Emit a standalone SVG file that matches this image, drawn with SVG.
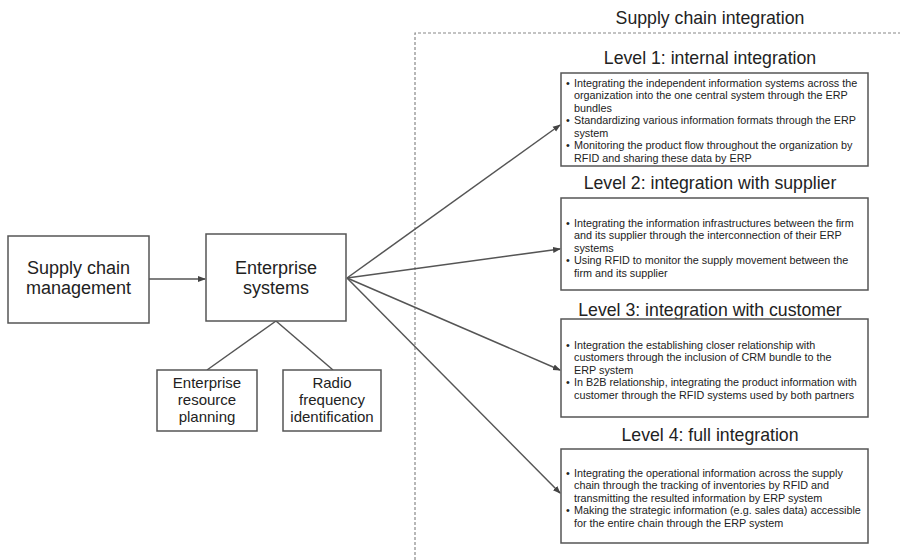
<svg xmlns="http://www.w3.org/2000/svg" width="900" height="560" viewBox="0 0 900 560">
<defs>
<style>
text{font-family:"Liberation Sans",Arial,sans-serif;fill:#222}
.box{fill:#fff;stroke:#555;stroke-width:1.5}
.main{font-size:18px;text-anchor:middle}
.small{font-size:15px;text-anchor:middle}
.head{font-size:17.7px;text-anchor:middle}
.bul{font-size:10.8px}
.conn{stroke:#555;stroke-width:1.5;fill:none}
</style>
<marker id="arr" markerWidth="8" markerHeight="8" refX="7" refY="4" orient="auto" markerUnits="userSpaceOnUse">
<path d="M0,1 L8,4 L0,7 Z" fill="#444"/>
</marker>
</defs>
<rect width="900" height="560" fill="#fff"/>
<g id="frame">
<path d="M415,560 V33 H900" fill="none" stroke="#888" stroke-width="1.2" stroke-dasharray="3,2"/>
<text class="head" x="710" y="24">Supply chain integration</text>
</g>
<g id="connectors">
<line class="conn" x1="149" y1="279" x2="205" y2="279" marker-end="url(#arr)"/>
<line class="conn" x1="276" y1="321" x2="207" y2="370"/>
<line class="conn" x1="276" y1="321" x2="333" y2="370"/>
<line class="conn" x1="347" y1="278" x2="560" y2="125" marker-end="url(#arr)"/>
<line class="conn" x1="347" y1="278" x2="560" y2="249" marker-end="url(#arr)"/>
<line class="conn" x1="347" y1="278" x2="560" y2="370" marker-end="url(#arr)"/>
<line class="conn" x1="347" y1="278" x2="560" y2="493" marker-end="url(#arr)"/>
</g>
<g id="scm">
<rect class="box" x="8" y="236" width="141" height="87"/>
<text class="main" x="78.5" y="274">Supply chain</text>
<text class="main" x="78.5" y="294">management</text>
</g>
<g id="es">
<rect class="box" x="206" y="234" width="140" height="87"/>
<text class="main" x="276" y="274">Enterprise</text>
<text class="main" x="276" y="294">systems</text>
</g>
<g id="erp">
<rect class="box" x="157" y="370" width="100" height="61"/>
<text class="small" x="207" y="388">Enterprise</text>
<text class="small" x="207" y="405">resource</text>
<text class="small" x="207" y="422">planning</text>
</g>
<g id="rfid">
<rect class="box" x="283" y="370" width="98" height="61"/>
<text class="small" x="332" y="388">Radio</text>
<text class="small" x="332" y="405">frequency</text>
<text class="small" x="332" y="422">identification</text>
</g>
<g id="level1">
<text class="head" x="710" y="64">Level 1: internal integration</text>
<rect class="box" x="561" y="73" width="307" height="93"/>
<text class="bul" x="566" y="86.5">•</text>
<text class="bul" x="574" y="86.5">Integrating the independent information systems across the</text>
<text class="bul" x="574" y="99">organization into the one central system through the ERP</text>
<text class="bul" x="574" y="111.5">bundles</text>
<text class="bul" x="566" y="124">•</text>
<text class="bul" x="574" y="124">Standardizing various information formats through the ERP</text>
<text class="bul" x="574" y="136.5">system</text>
<text class="bul" x="566" y="149">•</text>
<text class="bul" x="574" y="149">Monitoring the product flow throughout the organization by</text>
<text class="bul" x="574" y="161.5">RFID and sharing these data by ERP</text>
</g>
<g id="level2">
<text class="head" x="710" y="189">Level 2: integration with supplier</text>
<rect class="box" x="561" y="198" width="307" height="92"/>
<text class="bul" x="566" y="226.5">•</text>
<text class="bul" x="574" y="226.5">Integrating the information infrastructures between the firm</text>
<text class="bul" x="574" y="239">and its supplier through the interconnection of their ERP</text>
<text class="bul" x="574" y="251.5">systems</text>
<text class="bul" x="566" y="264">•</text>
<text class="bul" x="574" y="264">Using RFID to monitor the supply movement between the</text>
<text class="bul" x="574" y="276.5">firm and its supplier</text>
</g>
<g id="level3">
<text class="head" x="710" y="316">Level 3: integration with customer</text>
<rect class="box" x="561" y="319" width="307" height="98"/>
<text class="bul" x="566" y="348.5">•</text>
<text class="bul" x="574" y="348.5">Integration the establishing closer relationship with</text>
<text class="bul" x="574" y="361">customers through the inclusion of CRM bundle to the</text>
<text class="bul" x="574" y="373.5">ERP system</text>
<text class="bul" x="566" y="386">•</text>
<text class="bul" x="574" y="386">In B2B relationship, integrating the product information with</text>
<text class="bul" x="574" y="398.5">customer through the RFID systems used by both partners</text>
</g>
<g id="level4">
<text class="head" x="710" y="441">Level 4: full integration</text>
<rect class="box" x="561" y="449" width="307" height="94"/>
<text class="bul" x="566" y="476.5">•</text>
<text class="bul" x="574" y="476.5">Integrating the operational information across the supply</text>
<text class="bul" x="574" y="489">chain through the tracking of inventories by RFID and</text>
<text class="bul" x="574" y="501.5">transmitting the resulted information by ERP system</text>
<text class="bul" x="566" y="514">•</text>
<text class="bul" x="574" y="514">Making the strategic information (e.g. sales data) accessible</text>
<text class="bul" x="574" y="526.5">for the entire chain through the ERP system</text>
</g>
</svg>
